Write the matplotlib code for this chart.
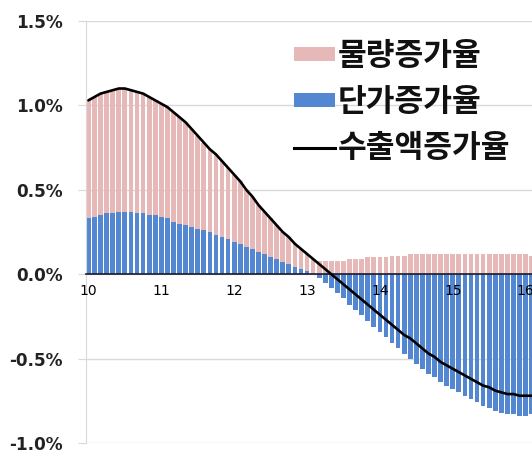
import numpy as np
import matplotlib
matplotlib.use("Agg")
import matplotlib.pyplot as plt
from matplotlib.patches import Patch
from matplotlib.lines import Line2D

# Monthly growth contributions (%), Jan 2010 onward
volume = [0.70, 0.71, 0.72, 0.72, 0.73, 0.73, 0.73, 0.72, 0.72, 0.71,
          0.70, 0.68, 0.67, 0.66, 0.65, 0.63, 0.61, 0.58, 0.55, 0.52,
          0.49, 0.48, 0.45, 0.42, 0.40, 0.37, 0.34, 0.31, 0.28, 0.25,
          0.23, 0.20, 0.18, 0.16, 0.14, 0.12, 0.10, 0.09, 0.08, 0.08,
          0.08, 0.08, 0.08, 0.09, 0.09, 0.09, 0.10, 0.10, 0.10, 0.10,
          0.11, 0.11, 0.11, 0.12, 0.12, 0.12, 0.12, 0.12, 0.12, 0.12,
          0.12, 0.12, 0.12, 0.12, 0.12, 0.12, 0.12, 0.12, 0.12, 0.12,
          0.12, 0.12, 0.12, 0.11]
price = [0.33, 0.34, 0.35, 0.36, 0.36, 0.37, 0.37, 0.37, 0.36, 0.36,
         0.35, 0.35, 0.34, 0.33, 0.31, 0.30, 0.29, 0.28, 0.27, 0.26,
         0.25, 0.23, 0.22, 0.21, 0.19, 0.18, 0.16, 0.15, 0.13, 0.12,
         0.10, 0.09, 0.07, 0.06, 0.04, 0.03, 0.02, 0.00, -0.02, -0.05,
         -0.08, -0.11, -0.14, -0.18, -0.21, -0.24, -0.28, -0.31, -0.34, -0.37,
         -0.41, -0.44, -0.47, -0.50, -0.53, -0.56, -0.59, -0.61, -0.64, -0.66,
         -0.68, -0.70, -0.72, -0.74, -0.76, -0.78, -0.79, -0.81, -0.82, -0.83,
         -0.83, -0.84, -0.84, -0.83]
export_value = [1.03, 1.05, 1.07, 1.08, 1.09, 1.10, 1.10, 1.09, 1.08, 1.07,
                1.05, 1.03, 1.01, 0.99, 0.96, 0.93, 0.90, 0.86, 0.82, 0.78,
                0.74, 0.71, 0.67, 0.63, 0.59, 0.55, 0.50, 0.46, 0.41, 0.37,
                0.33, 0.29, 0.25, 0.22, 0.18, 0.15, 0.12, 0.09, 0.06, 0.03,
                0.00, -0.03, -0.06, -0.09, -0.12, -0.15, -0.18, -0.21, -0.24, -0.27,
                -0.30, -0.33, -0.36, -0.38, -0.41, -0.44, -0.47, -0.49, -0.52, -0.54,
                -0.56, -0.58, -0.60, -0.62, -0.64, -0.66, -0.67, -0.69, -0.70, -0.71,
                -0.71, -0.72, -0.72, -0.72]
year_labels = ["10", "11", "12", "13", "14", "15", "16"]
y_ticks = [-1.0, -0.5, 0.0, 0.5, 1.0, 1.5]
series_names = ["물량증가율", "단가증가율", "수출액증가율"]

PINK = "#E6B9B8"
BLUE = "#5387D2"

fig = plt.figure(figsize=(5.32, 4.53), dpi=100)
ax = fig.add_axes([86 / 532, 10 / 453, 1 - 86 / 532, 1 - 31 / 453])

x = np.arange(len(price))
p = np.array(price)
v = np.array(volume)
# positive values stack upward from zero, negative ones downward
v_base = np.where(p > 0, p, 0.0)

ax.bar(x, p, width=0.78, color=BLUE, zorder=1)
ax.bar(x, v, bottom=v_base, width=0.78, color=PINK, zorder=1)
ax.plot(x, export_value, color="black", lw=1.9, zorder=4,
        solid_capstyle="round")

ax.set_ylim(-1.0, 1.5)
ax.set_xlim(-0.4, 73.05)
ax.set_yticks(y_ticks)
ax.set_yticklabels([f"{t:.1f}%" for t in y_ticks], fontsize=12.2,
                   fontweight="bold", color="#222222")
ax.yaxis.grid(True, color="#D9D9D9", lw=1.0)
ax.set_axisbelow(True)
ax.tick_params(axis="y", length=6, color="#D9D9D9", pad=11)

ax.set_xticks(x[::12][:len(year_labels)])
ax.set_xticklabels(year_labels, fontsize=14.5, fontweight="bold",
                   color="#111111")
ax.tick_params(axis="x", length=0, pad=7)
# year labels sit on top of the bars
ax.xaxis.set_zorder(3.5)

for s in ("top", "right"):
    ax.spines[s].set_visible(False)
ax.spines["left"].set_color("#D9D9D9")
ax.spines["bottom"].set_position(("data", 0))
ax.spines["bottom"].set_color("#1a1a2a")
ax.spines["bottom"].set_linewidth(1.2)
ax.spines["bottom"].set_zorder(3)

handles = [Patch(facecolor=PINK, edgecolor="none"),
           Patch(facecolor=BLUE, edgecolor="none"),
           Line2D([0], [0], color="black", lw=2.2)]
leg = fig.legend(handles, series_names, loc="upper left",
                 bbox_to_anchor=(294 / 532, 1 - 40 / 453),
                 frameon=False, borderpad=0, borderaxespad=0,
                 handlelength=1.3, handleheight=0.33, handletextpad=0.1,
                 labelspacing=0.45,
                 prop={"family": ["Noto Sans CJK KR", "DejaVu Sans"],
                       "weight": "bold", "size": 22.5})
for t in leg.get_texts():
    t.set_color("#111111")

fig.savefig("out.png", dpi=100)
